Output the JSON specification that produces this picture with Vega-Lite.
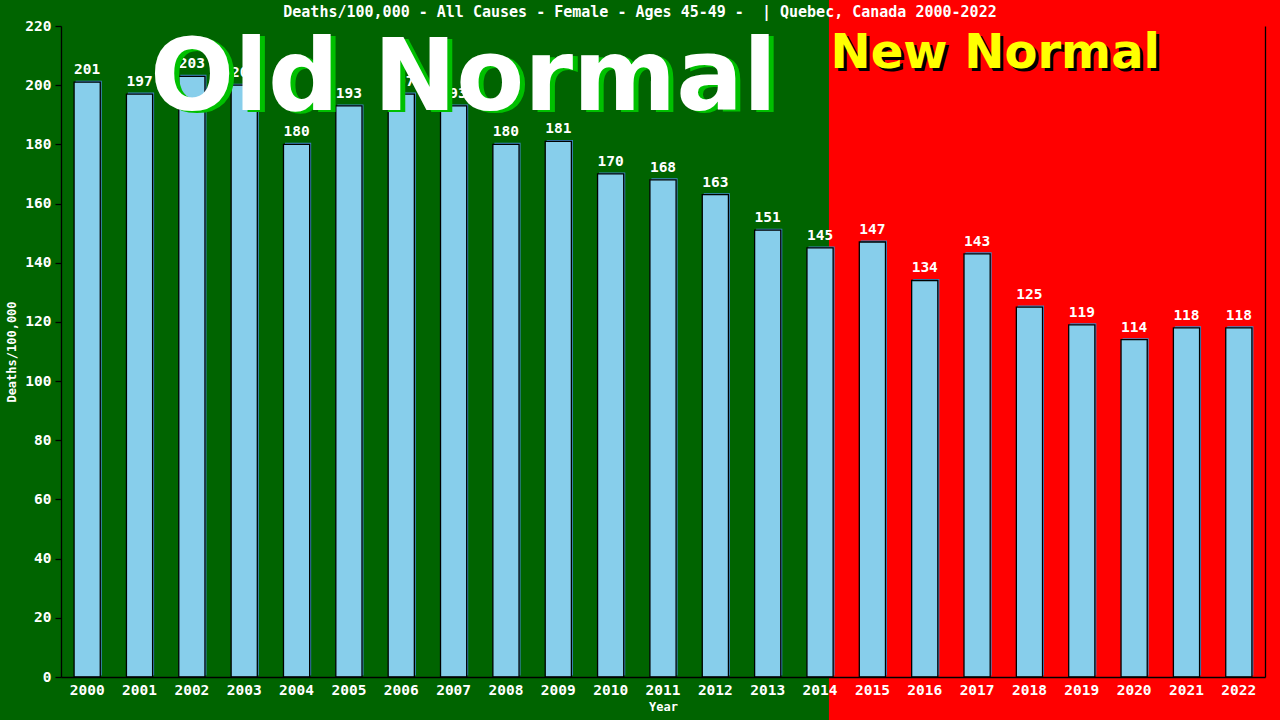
{
  "$schema": "https://vega.github.io/schema/vega-lite/v6.json",
  "width": 1204,
  "height": 651,
  "autosize": "none",
  "padding": {"left": 61, "top": 26, "right": 15, "bottom": 43},
  "background": "#006400",
  "title": {
    "text": "Deaths/100,000 - All Causes - Female - Ages 45-49 - \u00a0| Quebec, Canada 2000-2022",
    "color": "white",
    "font": "DejaVu Sans Mono",
    "fontSize": 15,
    "fontWeight": "bold",
    "anchor": "middle",
    "frame": "group",
    "dx": -23,
    "offset": -21
  },
  "config": {
    "view": {"stroke": null},
    "axis": {"grid": false}
  },
  "datasets": {
    "deaths": [
      {"year": "2000", "value": 201},
      {"year": "2001", "value": 197},
      {"year": "2002", "value": 203},
      {"year": "2003", "value": 200},
      {"year": "2004", "value": 180},
      {"year": "2005", "value": 193},
      {"year": "2006", "value": 197},
      {"year": "2007", "value": 193},
      {"year": "2008", "value": 180},
      {"year": "2009", "value": 181},
      {"year": "2010", "value": 170},
      {"year": "2011", "value": 168},
      {"year": "2012", "value": 163},
      {"year": "2013", "value": 151},
      {"year": "2014", "value": 145},
      {"year": "2015", "value": 147},
      {"year": "2016", "value": 134},
      {"year": "2017", "value": 143},
      {"year": "2018", "value": 125},
      {"year": "2019", "value": 119},
      {"year": "2020", "value": 114},
      {"year": "2021", "value": 118},
      {"year": "2022", "value": 118}
    ],
    "periods": [
      {"period": "New Normal", "start": 14.67, "end": 23.8}
    ]
  },
  "resolve": {
    "scale": {"x": "independent"},
    "axis": {"x": "independent", "y": "independent"}
  },
  "layer": [
    {
      "data": {"name": "periods"},
      "mark": {"type": "rect", "color": "#FF0000", "clip": false},
      "encoding": {
        "x": {"field": "start", "type": "quantitative", "scale": {"domain": [0, 23], "nice": false, "zero": false}, "axis": null},
        "x2": {"field": "end"},
        "y": {"datum": -20, "type": "quantitative", "scale": {"domain": [0, 220], "nice": false, "zero": true}, "axis": null},
        "y2": {"datum": 229}
      }
    },
    {
      "data": {"name": "deaths"},
      "mark": {"type": "bar", "color": "#3F8AC8", "xOffset": 1.5, "yOffset": -1.5},
      "encoding": {
        "x": {"field": "year", "type": "ordinal", "scale": {"paddingInner": 0.5, "paddingOuter": 0.25}, "axis": null},
        "y": {
          "field": "value", "type": "quantitative",
          "axis": {"orient": "right", "labels": false, "ticks": false, "title": null, "domainColor": "black", "domainWidth": 1.3, "grid": false, "zindex": 1}
        }
      }
    },
    {
      "data": {"name": "deaths"},
      "mark": {"type": "bar", "color": "#87CEEB", "stroke": "black", "strokeWidth": 1.3},
      "encoding": {
        "x": {
          "field": "year", "type": "ordinal",
          "scale": {"paddingInner": 0.5, "paddingOuter": 0.25},
          "axis": {
            "title": "Year", "labelAngle": 0, "ticks": false, "domainColor": "black", "domainWidth": 1.3, "zindex": 1,
            "labelColor": "white", "labelFont": "DejaVu Sans Mono", "labelFontSize": 14.5, "labelFontWeight": "bold", "labelPadding": 6,
            "titleColor": "white", "titleFont": "DejaVu Sans Mono", "titleFontSize": 12, "titleFontWeight": "bold", "titlePadding": 5
          }
        },
        "y": {
          "field": "value", "type": "quantitative",
          "axis": {
            "orient": "left", "title": "Deaths/100,000", "values": [0, 20, 40, 60, 80, 100, 120, 140, 160, 180, 200, 220], "zindex": 1,
            "domainColor": "black", "domainWidth": 1.3, "tickColor": "black", "tickSize": 6, "tickWidth": 1.3,
            "labelColor": "white", "labelFont": "DejaVu Sans Mono", "labelFontSize": 14.5, "labelFontWeight": "bold", "labelPadding": 4,
            "titleColor": "white", "titleFont": "DejaVu Sans Mono", "titleFontSize": 12, "titleFontWeight": "bold", "titlePadding": 6
          }
        }
      }
    },
    {
      "data": {"name": "deaths"},
      "mark": {"type": "text", "color": "white", "font": "DejaVu Sans Mono", "fontSize": 14.5, "fontWeight": "bold", "baseline": "alphabetic", "dy": -8},
      "encoding": {
        "x": {"field": "year", "type": "ordinal", "scale": {"paddingInner": 0.5, "paddingOuter": 0.25}, "axis": null},
        "y": {"field": "value", "type": "quantitative", "axis": null},
        "text": {"field": "value", "type": "quantitative"}
      }
    },
    {
      "data": {"values": [{"label": "Old Normal", "pos": 1.7, "level": 191.5}]},
      "mark": {"type": "text", "color": "#00C000", "font": "DejaVu Sans", "fontWeight": "bold", "fontSize": 99, "align": "left", "baseline": "alphabetic", "dx": 5, "dy": 2},
      "encoding": {
        "x": {"field": "pos", "type": "quantitative", "scale": {"domain": [0, 23], "nice": false, "zero": false}, "axis": null},
        "y": {"field": "level", "type": "quantitative", "axis": null},
        "text": {"field": "label"}
      }
    },
    {
      "data": {"values": [{"label": "Old Normal", "pos": 1.7, "level": 191.5}]},
      "mark": {"type": "text", "color": "white", "font": "DejaVu Sans", "fontWeight": "bold", "fontSize": 99, "align": "left", "baseline": "alphabetic"},
      "encoding": {
        "x": {"field": "pos", "type": "quantitative", "scale": {"domain": [0, 23], "nice": false, "zero": false}, "axis": null},
        "y": {"field": "level", "type": "quantitative", "axis": null},
        "text": {"field": "label"}
      }
    },
    {
      "data": {"values": [{"label": "New Normal", "pos": 14.7, "level": 205.8}]},
      "mark": {"type": "text", "color": "black", "font": "DejaVu Sans", "fontWeight": "bold", "fontSize": 48, "align": "left", "baseline": "alphabetic", "dx": 3, "dy": 3},
      "encoding": {
        "x": {"field": "pos", "type": "quantitative", "scale": {"domain": [0, 23], "nice": false, "zero": false}, "axis": null},
        "y": {"field": "level", "type": "quantitative", "axis": null},
        "text": {"field": "label"}
      }
    },
    {
      "data": {"values": [{"label": "New Normal", "pos": 14.7, "level": 205.8}]},
      "mark": {"type": "text", "color": "#FFFF00", "font": "DejaVu Sans", "fontWeight": "bold", "fontSize": 48, "align": "left", "baseline": "alphabetic"},
      "encoding": {
        "x": {"field": "pos", "type": "quantitative", "scale": {"domain": [0, 23], "nice": false, "zero": false}, "axis": null},
        "y": {"field": "level", "type": "quantitative", "axis": null},
        "text": {"field": "label"}
      }
    }
  ]
}
